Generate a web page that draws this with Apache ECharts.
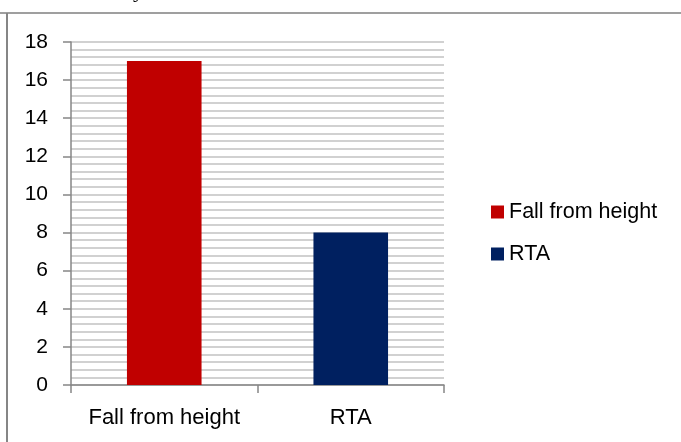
<!DOCTYPE html>
<html>
<head>
<meta charset="utf-8">
<script src="https://cdn.jsdelivr.net/npm/echarts@6/dist/echarts.min.js"></script>
<style>
  html, body { margin: 0; padding: 0; background: #fff; }
  #chart { width: 681px; height: 442px; }
</style>
</head>
<body>
<div id="chart"></div>
<script>
"use strict";

// data
var categories = ['Fall from height', 'RTA'];
var seriesNames = ['Fall from height', 'RTA'];
var seriesColors = ['#C00000', '#002060'];
var fallValues = [17, null];
var rtaValues = [null, 8];

var axisGray = '#868686';
var gridGray = '#c2c2c2';
var font = 'Liberation Sans';

var chartElement = document.getElementById('chart');
var myChart = echarts.init(chartElement, null, {renderer: 'canvas'});

var option = {
  backgroundColor: '#fff',
  animation: false,
  textStyle: {fontFamily: font},
  grid: {
    left: 71,
    right: 237,
    top: 42,
    bottom: 57
  },
  legend: {
    data: seriesNames,
    orient: 'vertical',
    left: 486,
    top: 196,
    itemWidth: 13,
    itemHeight: 13,
    itemGap: 20,
    icon: 'rect',
    textStyle: {fontSize: 21.5, color: '#000', fontFamily: font}
  },
  xAxis: {
    type: 'category',
    data: categories,
    axisLine: {lineStyle: {color: axisGray, width: 1.5}},
    axisTick: {show: true, length: 8, lineStyle: {color: axisGray, width: 1.5}},
    axisLabel: {interval: 0, color: '#000', fontSize: 22, margin: 22, fontFamily: font}
  },
  yAxis: {
    type: 'value',
    min: 0,
    max: 18,
    interval: 2,
    axisLine: {show: true, lineStyle: {color: axisGray, width: 1.5}},
    axisTick: {show: true, length: 8, lineStyle: {color: axisGray, width: 1.5}},
    axisLabel: {color: '#000', fontSize: 21, margin: 23, fontFamily: font},
    splitLine: {show: true, lineStyle: {color: gridGray, width: 1.5}},
    minorTick: {show: false, splitNumber: 5},
    minorSplitLine: {show: true, lineStyle: {color: gridGray, width: 1.5}}
  },
  series: [
    {
      name: seriesNames[0],
      type: 'bar',
      data: fallValues,
      barWidth: '40%',
      barGap: '-100%',
      itemStyle: {color: seriesColors[0]}
    },
    {
      name: seriesNames[1],
      type: 'bar',
      data: rtaValues,
      barWidth: '40%',
      barGap: '-100%',
      itemStyle: {color: seriesColors[1]}
    }
  ],
  graphic: [
    // frame of the chart area, only top and left edges show
    {type: 'line', shape: {x1: 0, y1: 13, x2: 681, y2: 13}, style: {stroke: '#7f7f7f', lineWidth: 1.5}},
    {type: 'line', shape: {x1: 7, y1: 13, x2: 7, y2: 442}, style: {stroke: '#868686', lineWidth: 2}},
    // clipped caption glyph at the very top
    {type: 'text', left: 133, top: -20, style: {text: 'y', fontFamily: 'Liberation Serif', fontSize: 22, fill: '#000'}}
  ]
};

myChart.setOption(option);
</script>
</body>
</html>
